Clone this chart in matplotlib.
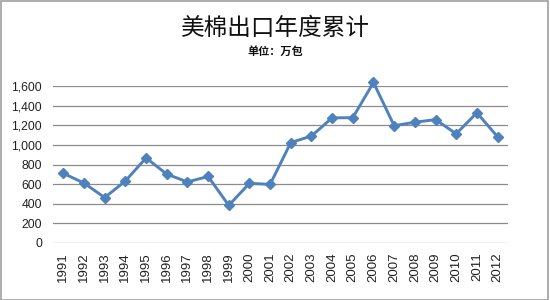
import matplotlib
matplotlib.use("Agg")
import matplotlib.pyplot as plt
from matplotlib.patches import Rectangle
from matplotlib.ticker import FuncFormatter

years = [str(y) for y in range(1991, 2013)]
values = [710, 610, 462, 632, 868, 702, 622, 678, 382, 608, 597,
          1025, 1092, 1278, 1280, 1640, 1198, 1233, 1260, 1115, 1330, 1085]
yticks = [0, 200, 400, 600, 800, 1000, 1200, 1400, 1600]
title = "美棉出口年度累计"
subtitle = "单位：万包"

plt.rcParams['font.family'] = ['Liberation Sans', 'Noto Sans CJK SC', 'DejaVu Sans']

fig = plt.figure(figsize=(5.5, 3.0), dpi=100)
fig.patches.append(Rectangle((0.001, 0.001), 0.996, 0.996, transform=fig.transFigure,
                             fill=False, edgecolor='#a0a0a0', linewidth=1.2))
ax = fig.add_axes([0.0964, 0.191, 0.827, 0.521])

x = list(range(len(years)))
ax.plot(x, values, color='#4F81BD', linewidth=2.1, marker='D', markersize=5.5,
        markerfacecolor='#4F81BD', markeredgecolor='#4F81BD', clip_on=False, zorder=3)

ax.set_xlim(-0.5, len(years) - 0.5)
ax.set_ylim(0, 1600)
ax.set_yticks(yticks)
ax.yaxis.set_major_formatter(FuncFormatter(lambda v, p: f"{int(v):,}"))
ax.set_xticks(x)
ax.set_xticklabels(years, rotation=90)
ax.grid(axis='y', color='#8c8c8c', linewidth=0.9)
ax.set_axisbelow(True)
for s in ax.spines.values():
    s.set_visible(False)
ax.tick_params(axis='both', length=0, labelsize=8.7, colors='#222222')
ax.tick_params(axis='x', labelsize=9.5, pad=7)
ax.tick_params(axis='y', pad=8)

fig.text(0.5, 0.905, title, ha='center', va='center', fontsize=17, fontweight='light',
         family=['Noto Sans CJK SC', 'DejaVu Sans'], color='#111111')
fig.text(0.5, 0.827, subtitle, ha='center', va='center', fontsize=8,
         fontweight='bold', family=['Noto Sans CJK SC', 'DejaVu Sans'], color='#111111')

fig.savefig("out.png", dpi=100)
